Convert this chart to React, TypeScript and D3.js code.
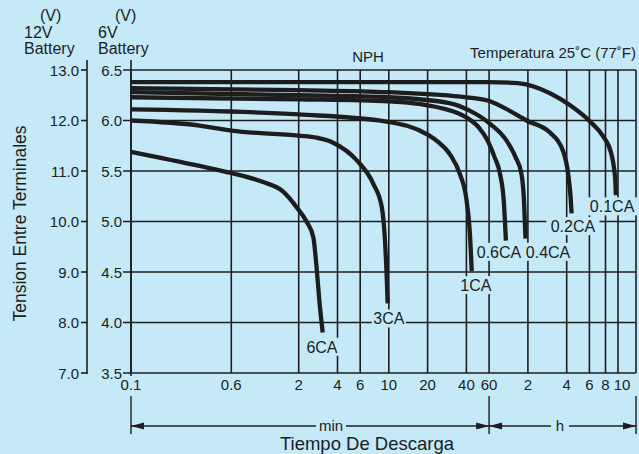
import React from "react";
import * as d3 from "d3";

// time in minutes, voltage for the 6V battery
const timeTicks = [0.1, 0.6, 2, 4, 6, 10, 20, 40, 60, 120, 240, 360, 480, 600];
const timeTickLabels = ["0.1", "0.6", "2", "4", "6", "10", "20", "40", "60", "2", "4", "6", "8", "10"];
const volt6Ticks = [3.5, 4.0, 4.5, 5.0, 5.5, 6.0, 6.5];
const volt12Ticks = [7.0, 8.0, 9.0, 10.0, 11.0, 12.0, 13.0];

const curve01CA: [number, number][] = [
  [0.1, 6.38], [10, 6.38], [60, 6.38], [100, 6.37], [178, 6.27], [255, 6.15],
  [364, 5.99], [462, 5.84], [530, 5.68], [560, 5.52], [572, 5.4], [578, 5.26],
];
const curve02CA: [number, number][] = [
  [0.1, 6.32], [2, 6.3], [10, 6.28], [40, 6.23], [61, 6.19], [80, 6.12],
  [117, 6.0], [178, 5.88], [226, 5.69], [247, 5.46], [257, 5.25], [262, 5.08],
];
const curve04CA: [number, number][] = [
  [0.1, 6.28], [2, 6.25], [10, 6.23], [30, 6.17], [42, 6.1], [62, 5.96],
  [82, 5.8], [96, 5.64], [107, 5.47], [112, 5.2], [115, 4.83],
];
const curve06CA: [number, number][] = [
  [0.1, 6.23], [2, 6.21], [10, 6.19], [28, 6.11], [40, 6.03], [50, 5.93],
  [58, 5.81], [66, 5.64], [73, 5.47], [78, 5.2], [81, 4.81],
];
const curve1CA: [number, number][] = [
  [0.1, 6.11], [2, 6.06], [9.6, 5.99], [20, 5.86], [24, 5.79], [30, 5.66],
  [35.6, 5.47], [40, 5.22], [42.5, 4.9], [44, 4.51],
];
const curve3CA: [number, number][] = [
  [0.1, 6.0], [0.34, 5.95], [0.6, 5.9], [2, 5.85], [2.75, 5.83], [3.7, 5.78],
  [5.6, 5.61], [7.6, 5.37], [8.8, 5.15], [9.3, 4.85], [9.6, 4.5], [9.8, 4.19],
];
const curve6CA: [number, number][] = [
  [0.1, 5.69], [0.34, 5.55], [0.6, 5.48], [1.06, 5.39], [1.5, 5.3], [1.93, 5.14],
  [2.3, 5.0], [2.6, 4.84], [2.75, 4.55], [2.9, 4.2], [3.07, 3.9],
];

const curveNames = ["0.1CA", "0.2CA", "0.4CA", "0.6CA", "1CA", "3CA", "6CA"];
const curveData = [curve01CA, curve02CA, curve04CA, curve06CA, curve1CA, curve3CA, curve6CA];
// where each name sits, in (minutes, volts)
const labelTimes = [540, 268, 172, 71.6, 47.4, 10, 3.03];
const labelVolts = [5.15, 4.955, 4.7, 4.7, 4.37, 4.04, 3.76];

const W = 639;
const H = 454;
const bg = "#c6e9f8";
const ink = "#1d1d1d";
const font = "'Liberation Sans', Arial, Helvetica, sans-serif";

const App = () => {
  const x = d3.scaleLog().domain([0.1, 600]).range([131, 618]);
  const y = d3.scaleLinear().domain([3.5, 6.5]).range([373, 70]);
  const y12 = d3.scaleLinear().domain([7, 13]).range([373, 70]);
  const right = 636;
  const top = y(6.5);
  const bottom = y(3.5);

  const line = d3
    .line<[number, number]>()
    .x((d) => x(d[0]))
    .y((d) => y(d[1]))
    .curve(d3.curveMonotoneX);

  const arrowY = 426;
  const xMin = x(0.1);
  const x60 = x(60);

  const arrowHead = (px: number, dir: number) =>
    `M${px},${arrowY} L${px - dir * 13},${arrowY - 3.5} L${px - dir * 13},${arrowY + 3.5} Z`;

  return (
    <svg
      width={W}
      height={H}
      style={{ position: "absolute", left: 0, top: 0, fontFamily: font }}
    >
      <rect x={0} y={0} width={W} height={H} fill={bg} />

      {/* header */}
      <g fill={ink} fontSize={16}>
        <text x={40} y={21}>(V)</text>
        <text x={24} y={38}>12V</text>
        <text x={24} y={54}>Battery</text>
        <text x={115} y={21}>(V)</text>
        <text x={98} y={38}>6V</text>
        <text x={98} y={54}>Battery</text>
      </g>
      <text x={368} y={62} fontSize={15} fill={ink} textAnchor="middle">NPH</text>
      <text x={636} y={58} fontSize={15} fill={ink} textAnchor="end">Temperatura 25˚C (77˚F)</text>

      {/* grid */}
      <g stroke={ink} strokeWidth={1.6}>
        {volt6Ticks.map((v) => (
          <line key={"h" + v} x1={x(0.1) - 8} x2={right} y1={y(v)} y2={y(v)} />
        ))}
        {timeTicks.map((t) => (
          <line key={"v" + t} x1={x(t)} x2={x(t)} y1={top} y2={bottom} />
        ))}
        <line x1={right} x2={right} y1={top} y2={bottom} />
        <line x1={xMin} x2={xMin} y1={60} y2={bottom + 3} />
        <line x1={87} x2={87} y1={60} y2={bottom + 1} />
        {volt12Ticks.map((v) => (
          <line key={"t12" + v} x1={81} x2={87} y1={y12(v)} y2={y12(v)} />
        ))}
      </g>

      {/* y tick labels */}
      <g fill={ink} fontSize={15}>
        {volt12Ticks.map((v) => (
          <text key={"l12" + v} x={79} y={y12(v) + 5.5} textAnchor="end">{v.toFixed(1)}</text>
        ))}
        {volt6Ticks.map((v) => (
          <text key={"l6" + v} x={122} y={y(v) + 5.5} textAnchor="end">{v.toFixed(1)}</text>
        ))}
      </g>
      <text
        transform={`translate(26,${(top + bottom) / 2 + 2}) rotate(-90)`}
        textAnchor="middle"
        fontSize={17.5}
        fill={ink}
      >
        Tension Entre Terminales
      </text>

      {/* x tick labels */}
      <g fill={ink} fontSize={15}>
        {timeTicks.map((t, i) => (
          <text
            key={"xl" + t}
            x={x(t) + (i === timeTicks.length - 1 ? 4 : 0)}
            y={390}
            textAnchor="middle"
          >
            {timeTickLabels[i]}
          </text>
        ))}
      </g>

      {/* label backgrounds hide the grid */}
      {curveNames.map((n, i) => (
        <rect
          key={"bg" + n}
          x={x(labelTimes[i]) - n.length * 4.7 - 3}
          y={y(labelVolts[i]) - 9}
          width={n.length * 9.4 + 6}
          height={18}
          fill={bg}
        />
      ))}

      {/* discharge curves */}
      <g fill="none" stroke={ink} strokeWidth={4.3} strokeLinejoin="round">
        {curveData.map((c, i) => (
          <path key={curveNames[i]} d={line(c) || ""} />
        ))}
      </g>

      <g fill={ink} fontSize={16}>
        {curveNames.map((n, i) => (
          <text key={"lb" + n} x={x(labelTimes[i])} y={y(labelVolts[i]) + 6} textAnchor="middle">
            {n}
          </text>
        ))}
      </g>

      {/* min / h brackets */}
      <g stroke={ink} strokeWidth={1.4}>
        <line x1={xMin} x2={xMin} y1={396} y2={434} />
        <line x1={x60} x2={x60} y1={396} y2={434} />
        <line x1={right} x2={right} y1={396} y2={434} />
        <line x1={xMin} x2={x60} y1={arrowY} y2={arrowY} />
        <line x1={x60} x2={right} y1={arrowY} y2={arrowY} />
      </g>
      <g fill={ink}>
        <path d={arrowHead(xMin, -1)} />
        <path d={arrowHead(x60, 1)} />
        <path d={arrowHead(x60, -1)} />
        <path d={arrowHead(right, 1)} />
      </g>
      <rect x={316} y={arrowY - 8} width={30} height={16} fill={bg} />
      <rect x={551} y={arrowY - 8} width={18} height={16} fill={bg} />
      <text x={331} y={arrowY + 5} fontSize={15} fill={ink} textAnchor="middle">min</text>
      <text x={560} y={arrowY + 5} fontSize={15} fill={ink} textAnchor="middle">h</text>
      <text x={367} y={450} fontSize={18.5} fill={ink} textAnchor="middle">Tiempo De Descarga</text>
    </svg>
  );
};

export default App;
